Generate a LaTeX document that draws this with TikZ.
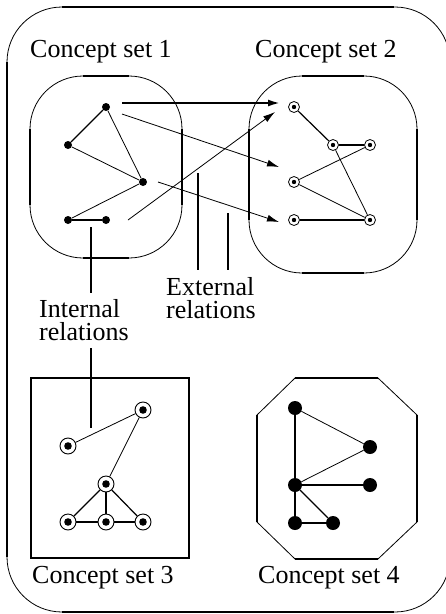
\documentclass[tikz,border=0pt]{standalone}
\usepackage{fontspec}
\setmainfont{Liberation Serif}
\usetikzlibrary{arrows.meta}
\begin{document}
\begin{tikzpicture}[x=1pt,y=-1pt,
 lbl/.style={font=\fontsize{26}{28}\selectfont, inner sep=0pt, anchor=base west},
 lbl2/.style={font=\fontsize{26}{22.5}\selectfont, inner sep=0pt, align=left, anchor=base west},
 lnA/.style={line width=0.8pt},
 lnB/.style={line width=1.2pt},
 lnC/.style={line width=2pt},
 dot/.style={circle, fill=black, inner sep=0pt, minimum size=8pt},
 ring/.style={circle, draw, line width=0.8pt, fill=white, inner sep=0pt, minimum size=11pt,
   path picture={\fill[black] (path picture bounding box.center) circle (2.2pt);}},
 bigring/.style={circle, draw, line width=0.9pt, fill=white, inner sep=0pt, minimum size=16pt,
   path picture={\fill[black] (path picture bounding box.center) circle (3.8pt);}},
 bigdot/.style={circle, fill=black, inner sep=0pt, minimum size=14pt},
 arr/.style={-{Latex[length=12pt,width=7pt]}}
]
\clip (0,0) rectangle (446,614);
\fill[white] (0,0) rectangle (446,614);

% outer frame
\draw[lnA, rounded corners=55pt] (7,7) rectangle (450,612);
\draw[lnC] (62,7) -- (394,7) (62,612) -- (394,612) (7,62) -- (7,557);

% concept set 1 box
\draw[lnA, rounded corners=53pt] (30,76) rectangle (182,258);
\draw[lnC] (83,76) -- (129,76) (83,258) -- (129,258) (30,129) -- (30,205) (182,129) -- (182,205);

% concept set 2 box
\draw[lnA, rounded corners=53pt] (249,76) rectangle (417,273);
\draw[lnC] (302,76) -- (364,76) (302,273) -- (364,273) (249,129) -- (249,220) (417,129) -- (417,220);

% concept set 3 box
\draw[lnC] (31,378) rectangle (189,558);

% concept set 4 octagon
\draw[lnA] (295,378) -- (378,378) -- (417,415) -- (417,522) -- (378,559) -- (295,559) -- (257,522) -- (257,415) -- cycle;
\draw[lnC] (295,378) -- (378,378) (417,415) -- (417,522) (378,559) -- (295,559) (257,522) -- (257,415);

% labels
\node[lbl] (t1) at (30,57) {Concept set 1};
\node[lbl] (t2) at (255,57) {Concept set 2};
\node[lbl] (t3) at (32,583) {Concept set 3};
\node[lbl] (t4) at (258,583) {Concept set 4};
\node[lbl2] (int) at (39,340) {Internal\\relations};
\node[lbl2] (ext) at (166,318) {External\\relations};

% set 1 nodes
\node[dot] (a) at (106,107) {};
\node[dot] (b) at (68,145) {};
\node[dot] (c) at (143,182) {};
\node[dot] (d) at (68,220) {};
\node[dot] (e) at (106,220) {};
\draw[lnB] (a) -- (b);
\draw[lnA] (a) -- (c) (b) -- (c) (c) -- (d);
\draw[lnC] (d) -- (e);

% set 2 nodes
\node[ring] (p) at (294,107) {};
\node[ring] (q) at (333,145) {};
\node[ring] (r) at (370,145) {};
\node[ring] (s) at (294,182) {};
\node[ring] (t) at (294,220) {};
\node[ring] (u) at (370,220) {};
\draw[lnB] (p) -- (q);
\draw[lnC] (q) -- (r) (t) -- (u);
\draw[lnA] (r) -- (s) (s) -- (u) (q) -- (u);

% external relation arrows
\coordinate (x1s) at (122,103); \coordinate (x1e) at (280,103);
\coordinate (x2s) at (122,114); \coordinate (x2e) at (279,167);
\coordinate (x3s) at (158,182); \coordinate (x3e) at (279,222);
\coordinate (x4s) at (128,220); \coordinate (x4e) at (275,112);
\draw[lnC, arr] (x1s) -- (x1e);
\draw[lnA, arr] (x2s) -- (x2e);
\draw[lnA, arr] (x3s) -- (x3e);
\draw[lnA, arr] (x4s) -- (x4e);

% leader lines
\coordinate (l1a) at (198,173); \coordinate (l1b) at (198,270);
\coordinate (l2a) at (228,213); \coordinate (l2b) at (228,270);
\coordinate (l3a) at (91,227);  \coordinate (l3b) at (91,293);
\coordinate (l4a) at (91,348);  \coordinate (l4b) at (91,428);
\draw[lnC] (l1a) -- (l1b) (l2a) -- (l2b) (l3a) -- (l3b) (l4a) -- (l4b);

% set 3 nodes
\node[bigring] (m1) at (143,410) {};
\node[bigring] (m2) at (68,446) {};
\node[bigring] (m3) at (106,484) {};
\node[bigring] (m4) at (68,522) {};
\node[bigring] (m5) at (106,522) {};
\node[bigring] (m6) at (143,522) {};
\draw[lnA] (m1) -- (m2) (m1) -- (m3);
\draw[lnB] (m3) -- (m4) (m3) -- (m6);
\draw[lnC] (m3) -- (m5) (m4) -- (m5) (m5) -- (m6);

% set 4 nodes
\node[bigdot] (n1) at (295,408) {};
\node[bigdot] (n2) at (370,447) {};
\node[bigdot] (n3) at (295,485) {};
\node[bigdot] (n4) at (370,485) {};
\node[bigdot] (n5) at (295,523) {};
\node[bigdot] (n6) at (333,523) {};
\draw[lnA] (n1) -- (n2) (n2) -- (n3);
\draw[lnB] (n3) -- (n6);
\draw[lnC] (n1) -- (n3) (n3) -- (n4) (n3) -- (n5) (n5) -- (n6);
\end{tikzpicture}
\end{document}
